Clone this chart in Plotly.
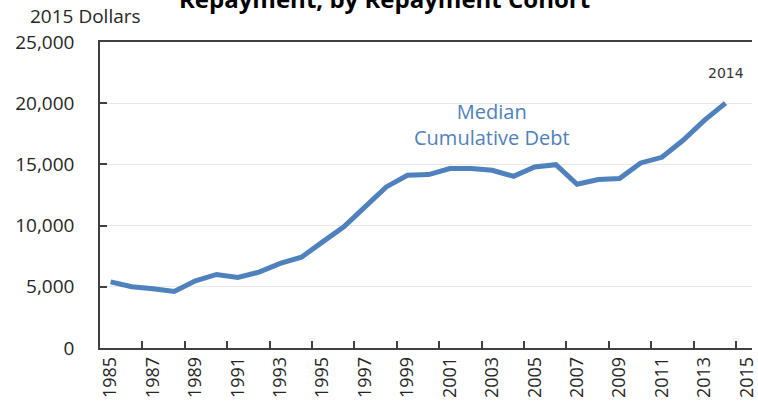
import plotly.graph_objects as go

# Median cumulative debt at entry into repayment, by repayment cohort (2015 dollars)
years = list(range(1985, 2015))
median_debt = [5400, 5000, 4840, 4620, 5490, 6010, 5770, 6200, 6910, 7420,
               8670, 9900, 11530, 13160, 14110, 14170, 14660, 14660, 14520, 14030,
               14790, 14980, 13380, 13760, 13840, 15120, 15580, 16970, 18600, 20010]

x_tick_labels = list(range(1985, 2016, 2))
y_ticks = [0, 5000, 10000, 15000, 20000, 25000]

LINE_BLUE = "#4f81bd"
AXIS_GREY = "#404040"
TEXT = "#262626"

fig = go.Figure()
fig.add_trace(go.Scatter(
    x=years, y=median_debt, mode="lines",
    line=dict(color=LINE_BLUE, width=5),
    showlegend=False, hoverinfo="x+y",
))

x_range = [1984.5, 2015.25]

fig.update_layout(
    width=758, height=408,
    margin=dict(l=100, r=0, t=42, b=60),
    paper_bgcolor="white", plot_bgcolor="white",
    font=dict(family="Open Sans", color=TEXT),
    xaxis=dict(
        range=x_range,
        tickmode="array", tickvals=x_tick_labels,
        ticktext=[str(v) for v in x_tick_labels],
        tickangle=-90, ticks="",
        ticklabeloverflow="allow",
        tickfont=dict(family="Open Sans", size=18, color=TEXT),
        showgrid=False, zeroline=False,
        showline=True, linecolor=AXIS_GREY, linewidth=1.5, mirror=True,
        minor=dict(tickvals=[y + 0.5 for y in range(1986, 2015, 2)],
                   ticks="inside", ticklen=7, tickcolor=AXIS_GREY,
                   tickwidth=1.5, showgrid=False),
    ),
    yaxis=dict(
        range=[0, 25000],
        tickmode="array", tickvals=y_ticks,
        ticktext=[f"{v:,}" for v in y_ticks],
        ticks="inside", ticklen=7, tickcolor=AXIS_GREY, tickwidth=1.5,
        tickfont=dict(family="Open Sans", size=19, color=TEXT),
        ticklabelstandoff=20,
        showgrid=True, gridcolor="#e8e8e8", gridwidth=1,
        zeroline=False,
        showline=True, linecolor=AXIS_GREY, linewidth=1.5,
    ),
)

# Chart title (partly above the top edge)
fig.add_annotation(
    text="<b>Repayment, by Repayment Cohort</b>",
    xref="paper", yref="paper", x=(387 - 100) / 658, y=1,
    xanchor="center", yanchor="bottom", yshift=25, showarrow=False,
    font=dict(family="Open Sans", size=24, color="#000000"),
)

# Units label above the y axis
fig.add_annotation(
    text="2015 Dollars",
    xref="paper", yref="paper", x=(27 - 100) / 658, y=1,
    xanchor="left", yanchor="middle", yshift=26, showarrow=False,
    font=dict(family="Open Sans", size=19, color=TEXT),
)

# Series label
fig.add_annotation(
    text="Median<br>Cumulative Debt",
    x=2003.0, y=18270, xref="x", yref="y",
    xanchor="center", yanchor="middle", showarrow=False,
    font=dict(family="Open Sans", size=20, color=LINE_BLUE),
)

# End-point year label
fig.add_annotation(
    text=str(years[-1]),
    x=years[-1], y=22430, xref="x", yref="y",
    xanchor="center", yanchor="middle", showarrow=False,
    font=dict(family="DejaVu Sans", size=14, color="#333333"),
)

fig.write_html("out.html")
